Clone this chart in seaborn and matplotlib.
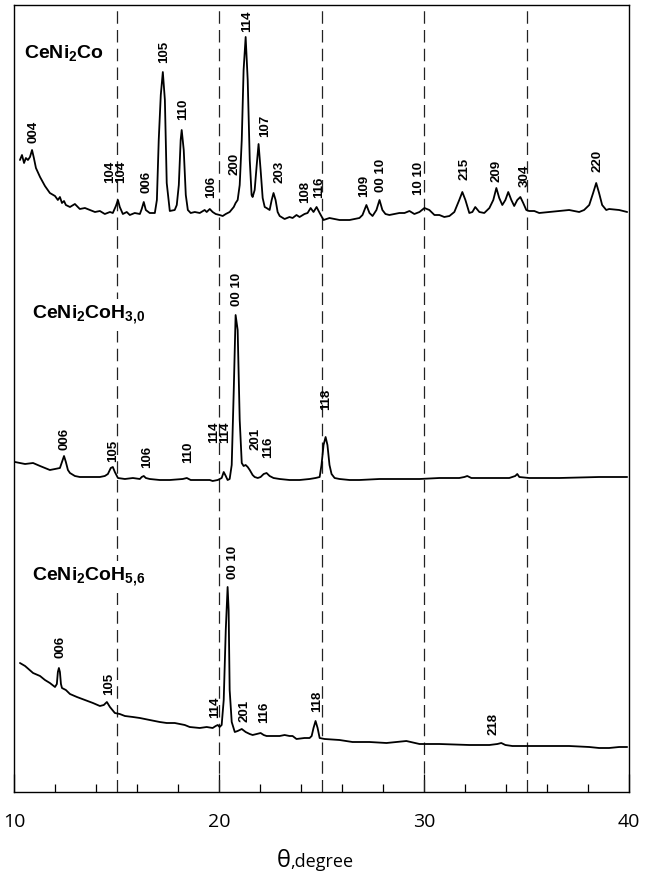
import matplotlib
matplotlib.use("Agg")
import matplotlib.pyplot as plt
import pandas as pd
import seaborn as sns

# ---------------- data (2theta in degree, intensity in arbitrary units) ----------------
top_2theta = [10.29, 10.39, 10.49, 10.58, 10.68, 10.78, 10.88, 10.97, 11.07, 11.27, 11.51, 11.75,
              12.00, 12.14, 12.24, 12.34, 12.44, 12.53, 12.73, 12.97, 13.21, 13.46, 13.70, 13.95,
              14.19, 14.43, 14.68, 14.82, 14.97, 15.07, 15.16, 15.31, 15.50, 15.65, 15.89, 16.14,
              16.23, 16.33, 16.43, 16.62, 16.87, 16.97, 17.06, 17.16, 17.26, 17.36, 17.45, 17.60,
              17.84, 17.94, 18.04, 18.13, 18.18, 18.28, 18.38, 18.48, 18.62, 18.82, 19.06, 19.30,
              19.40, 19.55, 19.69, 19.84, 20.03, 20.18, 20.33, 20.52, 20.72, 20.81, 20.91, 21.01,
              21.11, 21.20, 21.30, 21.40, 21.50, 21.59, 21.64, 21.74, 21.84, 21.93, 22.03, 22.13,
              22.23, 22.32, 22.47, 22.57, 22.66, 22.76, 22.86, 22.96, 23.20, 23.44, 23.59, 23.78,
              23.93, 24.17, 24.32, 24.47, 24.61, 24.76, 24.91, 25.10, 25.39, 25.64, 25.88, 26.37,
              26.85, 27.00, 27.19, 27.34, 27.49, 27.68, 27.83, 27.97, 28.12, 28.31, 28.80, 29.05,
              29.29, 29.53, 29.78, 30.02, 30.26, 30.51, 30.75, 30.99, 31.24, 31.48, 31.72, 31.87,
              32.02, 32.21, 32.36, 32.50, 32.70, 32.94, 33.19, 33.38, 33.53, 33.67, 33.82, 33.97,
              34.11, 34.26, 34.40, 34.55, 34.70, 34.84, 34.99, 35.13, 35.38, 35.62, 36.11, 36.60,
              37.08, 37.57, 37.81, 38.06, 38.25, 38.40, 38.54, 38.69, 38.89, 39.03, 39.52, 39.91]
top_int = [632, 637, 629, 634, 632, 635, 642, 634, 624, 615, 606, 599,
           596, 592, 595, 589, 591, 587, 585, 588, 583, 584, 582, 580,
           581, 578, 580, 579, 586, 592, 585, 578, 580, 577, 579, 578,
           583, 590, 582, 579, 579, 592, 652, 697, 720, 692, 609, 581,
           582, 587, 607, 652, 662, 642, 597, 582, 579, 580, 579, 582,
           580, 583, 580, 578, 577, 576, 578, 580, 585, 589, 592, 607,
           652, 722, 755, 712, 632, 597, 595, 602, 627, 648, 622, 594,
           585, 584, 582, 592, 599, 592, 580, 576, 573, 575, 574, 577,
           575, 578, 579, 584, 580, 585, 579, 572, 574, 573, 572, 572,
           574, 577, 587, 579, 576, 582, 592, 582, 578, 577, 579, 579,
           581, 578, 580, 584, 582, 577, 577, 575, 576, 580, 592, 600,
           592, 579, 580, 585, 580, 579, 584, 592, 604, 594, 587, 592,
           600, 592, 586, 592, 595, 589, 582, 581, 581, 579, 580, 581,
           582, 580, 582, 587, 599, 609, 599, 587, 582, 583, 582, 580]

mid_2theta = [10.05, 10.29, 10.54, 10.93, 11.27, 11.75, 12.00, 12.24, 12.34, 12.44, 12.53, 12.63,
              12.73, 12.97, 13.21, 13.70, 14.19, 14.43, 14.58, 14.72, 14.82, 14.92, 15.07, 15.41,
              15.80, 16.14, 16.23, 16.33, 16.43, 16.62, 17.11, 17.60, 18.23, 18.43, 18.62, 19.06,
              19.55, 19.69, 19.94, 20.13, 20.23, 20.33, 20.42, 20.52, 20.62, 20.72, 20.81, 20.91,
              21.01, 21.11, 21.20, 21.30, 21.40, 21.50, 21.64, 21.74, 21.89, 22.03, 22.18, 22.32,
              22.47, 22.66, 22.96, 23.44, 23.93, 24.42, 24.71, 24.91, 25.00, 25.10, 25.20, 25.29,
              25.39, 25.49, 25.64, 25.88, 26.37, 26.85, 27.83, 28.80, 29.78, 30.75, 31.72, 31.97,
              32.11, 32.31, 33.19, 34.16, 34.45, 34.55, 34.65, 35.13, 36.60, 38.54, 39.91]
mid_int = [330, 329, 328, 329, 326, 322, 323, 324, 330, 336, 330, 322,
           319, 316, 315, 315, 315, 316, 318, 324, 325, 320, 314, 313,
           314, 313, 315, 316, 314, 313, 312, 312, 313, 314, 312, 312,
           312, 311, 312, 314, 320, 316, 312, 313, 327, 402, 477, 462,
           372, 329, 326, 327, 325, 322, 317, 315, 314, 315, 318, 319,
           316, 314, 313, 312, 312, 313, 314, 315, 327, 347, 355, 347,
           327, 318, 314, 313, 312, 312, 313, 313, 313, 314, 314, 315,
           316, 314, 314, 314, 316, 318, 315, 314, 314, 315, 315]

bot_2theta = [10.29, 10.54, 10.93, 11.27, 11.51, 11.75, 12.00, 12.09, 12.14, 12.19, 12.24, 12.29,
              12.34, 12.53, 12.73, 13.07, 13.46, 13.85, 14.19, 14.38, 14.53, 14.68, 14.92, 15.16,
              15.41, 15.80, 16.14, 16.62, 17.11, 17.45, 17.84, 18.33, 18.57, 19.06, 19.40, 19.69,
              19.84, 19.94, 20.03, 20.13, 20.23, 20.33, 20.42, 20.47, 20.52, 20.62, 20.77, 20.91,
              21.11, 21.30, 21.50, 21.64, 21.84, 22.03, 22.18, 22.32, 22.71, 22.96, 23.20, 23.44,
              23.59, 23.78, 24.17, 24.42, 24.52, 24.61, 24.71, 24.81, 24.91, 25.15, 25.88, 26.51,
              27.34, 28.17, 29.14, 29.78, 30.75, 32.21, 33.19, 33.58, 33.77, 33.97, 34.31, 35.13,
              36.25, 37.08, 38.06, 38.54, 39.03, 39.52, 39.91]
bot_int = [129, 126, 119, 116, 112, 109, 105, 108, 120, 124, 120, 108,
           104, 102, 98, 95, 92, 89, 86, 87, 90, 85, 79, 78,
           76, 75, 74, 72, 70, 69, 69, 67, 65, 64, 65, 64,
           66, 67, 65, 67, 92, 162, 205, 182, 102, 70, 60, 61,
           63, 60, 58, 57, 58, 59, 57, 56, 56, 56, 57, 56,
           56, 53, 54, 54, 56, 64, 71, 64, 54, 53, 52, 50,
           50, 49, 51, 48, 48, 47, 47, 48, 49, 47, 46, 46,
           46, 46, 45, 44, 44, 45, 45]

# peak (hkl) annotations
top_labels = ["004", "104", "104", "006", "105", "110", "106", "200", "114", "107", "203",
              "108", "116", "109", "00 10", "10 10", "215", "209", "304", "220"]
top_label_2theta = [10.97, 14.68, 15.21, 16.48, 17.30, 18.23, 19.64, 20.77, 21.35, 22.23, 22.96,
                    24.22, 24.86, 27.10, 27.92, 29.78, 31.97, 33.53, 34.89, 38.45]
top_label_int = [649, 609, 609, 599, 729, 672, 594, 617, 760, 655, 609,
                 589, 594, 595, 600, 597, 612, 610, 605, 620]

mid_labels = ["006", "105", "106", "110", "114", "114", "00 10", "201", "116", "118"]
mid_label_2theta = [12.48, 14.82, 16.48, 18.48, 19.74, 20.28, 20.86, 21.79, 22.42, 25.24]
mid_label_int = [342, 330, 324, 329, 349, 349, 486, 342, 334, 382]

bot_labels = ["006", "105", "114", "00 10", "201", "116", "118", "218"]
bot_label_2theta = [12.29, 14.63, 19.79, 20.67, 21.25, 22.18, 24.81, 33.38]
bot_label_int = [134, 97, 74, 213, 70, 69, 80, 57]

sample_names = [r"CeNi$_2$Co", r"CeNi$_2$CoH$_{3{,}0}$", r"CeNi$_2$CoH$_{5{,}6}$"]
sample_2theta = [10.49, 10.88, 10.88]
sample_int = [739, 477, 215]

guide_lines = [15, 20, 25, 30, 35]
major_ticks = [10, 20, 30, 40]
minor_ticks = [12, 14, 16, 18, 22, 24, 26, 28, 32, 34, 36, 38]

# ---------------- style ----------------
sns.set_style("white")
plt.rcParams["font.family"] = ["Liberation Sans", "DejaVu Sans"]
plt.rcParams["mathtext.fontset"] = "custom"
plt.rcParams["mathtext.rm"] = "Liberation Sans:bold"
plt.rcParams["mathtext.it"] = "Liberation Sans:bold"
plt.rcParams["mathtext.bf"] = "Liberation Sans:bold"

fig = plt.figure(figsize=(6.56, 8.82), dpi=100)
ax = fig.add_axes([14 / 656, 1 - 792 / 882, 615 / 656, 787 / 882])

for xs, ys in [(top_2theta, top_int), (mid_2theta, mid_int), (bot_2theta, bot_int)]:
    df = pd.DataFrame({"two_theta": xs, "intensity": ys})
    sns.lineplot(data=df, x="two_theta", y="intensity", color="black", lw=1.3,
                 estimator=None, sort=False, ax=ax, zorder=2)

for v in guide_lines:
    ax.axvline(v, color="#222222", lw=0.9, ls=(0, (10, 5)), zorder=1)

for labels, xs, ys in [(top_labels, top_label_2theta, top_label_int),
                       (mid_labels, mid_label_2theta, mid_label_int),
                       (bot_labels, bot_label_2theta, bot_label_int)]:
    for t, x, y in zip(labels, xs, ys):
        ax.text(x, y, t, rotation=90, ha="center", va="bottom", fontsize=9.5,
                fontweight="bold", family="Liberation Sans", color="black", zorder=4)

for t, x, y in zip(sample_names, sample_2theta, sample_int):
    ax.text(x, y, t, ha="left", va="center", fontsize=14, fontweight="bold",
            family="Liberation Sans", color="black", zorder=5,
            bbox=dict(facecolor="white", edgecolor="none", pad=3))

ax.set_xlim(10, 40)
ax.set_ylim(0, 787)
ax.set_xticks(major_ticks)
ax.set_xticks(minor_ticks, minor=True)
ax.set_xticklabels([str(v) for v in major_ticks], fontsize=14, family="Open Sans")
ax.set_yticks([])
ax.tick_params(axis="x", which="major", direction="in", length=13, width=0.9, pad=15,
               bottom=True, top=False, colors="black")
ax.tick_params(axis="x", which="minor", direction="in", length=6, width=0.9,
               bottom=True, top=False, colors="black")
ax.set_xlabel("")
ax.set_ylabel("")
for s in ax.spines.values():
    s.set_visible(True)
    s.set_color("black")
    s.set_linewidth(1.0)

ax.text(0.45, -0.0953, "θ", transform=ax.transAxes, ha="right", va="baseline",
        fontsize=17, family="Open Sans", color="black")
ax.text(0.45, -0.0953, ",degree", transform=ax.transAxes, ha="left", va="baseline",
        fontsize=13, family="Open Sans", color="black")

fig.savefig("out.png", dpi=100)
